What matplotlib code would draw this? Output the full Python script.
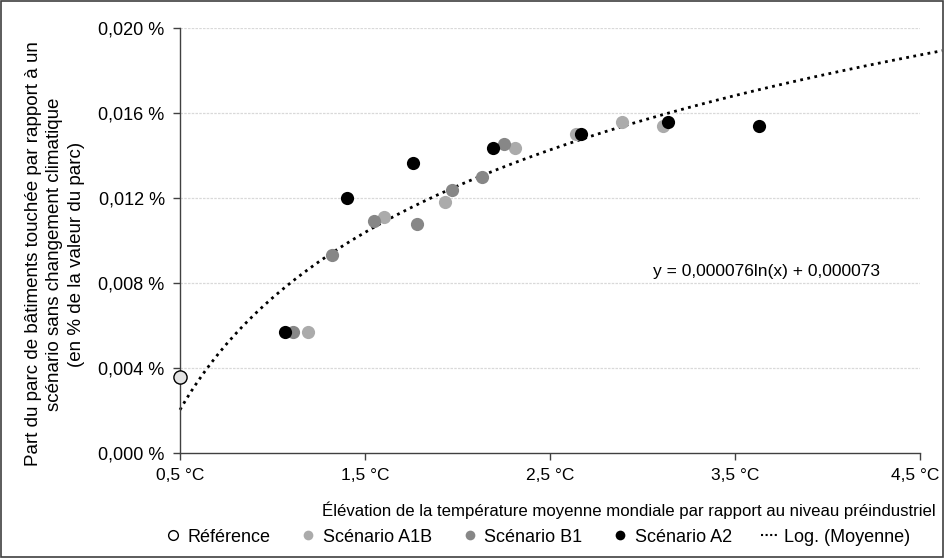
import numpy as np
import matplotlib
matplotlib.use("Agg")
import matplotlib.pyplot as plt
import matplotlib.ticker as mticker
import matplotlib.transforms as mtransforms
from matplotlib.lines import Line2D
from matplotlib.patches import Rectangle

plt.rcParams['font.family'] = ['Liberation Sans', 'DejaVu Sans']

# Point de référence (0,5 °C)
ref_x = [0.5]
ref_y = [0.0036]

# Scénarios : élévation de température (°C) et part touchée (%)
a1b_x = [1.19, 1.60, 1.93, 2.31, 2.64, 2.89, 3.11]
a1b_y = [0.0057, 0.0111, 0.0118, 0.01435, 0.0150, 0.0156, 0.0154]

b1_x = [1.11, 1.32, 1.55, 1.78, 1.97, 2.13, 2.25]
b1_y = [0.0057, 0.0093, 0.0109, 0.0108, 0.0124, 0.0130, 0.01454]

a2_x = [1.07, 1.40, 1.76, 2.19, 2.67, 3.14, 3.63]
a2_y = [0.0057, 0.0120, 0.01365, 0.01435, 0.0150, 0.0156, 0.0154]

# Tendance logarithmique (valeurs en fraction)
coef_a = 0.000076
coef_b = 0.000073

y_ticks = [0.000, 0.004, 0.008, 0.012, 0.016, 0.020]
x_ticks = [0.5, 1.5, 2.5, 3.5, 4.5]

W, H = 944, 558
fig = plt.figure(figsize=(W / 100, H / 100), dpi=100)
ax = fig.add_axes([180 / W, 1 - 453 / H, 740 / W, 425 / H])

ax.set_xlim(0.5, 4.5)
ax.set_ylim(0, 0.020)

for y in y_ticks[1:]:
    ax.axhline(y, color='#d9d9d9', lw=0.9, ls=(0, (2, 1)), zorder=0)

ms = 9.5
ax.plot(a1b_x, a1b_y, 'o', ms=ms, color='#ababab', mec='none', zorder=3)
ax.plot(b1_x, b1_y, 'o', ms=ms, color='#878787', mec='none', zorder=3)
ax.plot(a2_x, a2_y, 'o', ms=ms, color='black', mec='none', zorder=4)
ax.plot(ref_x, ref_y, 'o', ms=ms, color='#e3e3e3', mec='black', mew=1.0,
        zorder=5, clip_on=False)

xt = np.linspace(0.5, 4.62, 200)
yt = (coef_a * np.log(xt) + coef_b) * 100
ax.plot(xt, yt, color='black', lw=2, ls=(0, (1, 1.6)), zorder=2, clip_on=False)

ax.text(3.67, 0.00852, "y = 0,000076ln(x) + 0,000073", ha='center', va='center',
        fontsize=12.5)

ax.set_yticks(y_ticks)
ax.set_xticks(x_ticks)
ax.yaxis.set_major_formatter(mticker.FuncFormatter(
    lambda v, p: f"{v:.3f} %".replace('.', ',')))
ax.xaxis.set_major_formatter(mticker.FuncFormatter(
    lambda v, p: f"{v:.1f} °C".replace('.', ',')))

for s in ['top', 'right']:
    ax.spines[s].set_visible(False)
for s in ['left', 'bottom']:
    ax.spines[s].set_color('#404040')
    ax.spines[s].set_linewidth(1.0)
ax.tick_params(direction='out', length=5, width=1, color='#404040',
               labelsize=13, pad=6)
ax.tick_params(axis='x', labelsize=12.5)
# le dernier libellé est un peu décalé pour rester dans le cadre
dernier = ax.get_xticklabels()[-1]
dernier.set_transform(dernier.get_transform() +
                      mtransforms.ScaledTranslation(-5 / 100, 0, fig.dpi_scale_trans))

fig.text(629 / W, 1 - 510 / H,
         "Élévation de la température moyenne mondiale par rapport au niveau préindustriel",
         ha='center', va='center', fontsize=12.1)
fig.text(55 / W, 1 - 254 / H,
         "Part du parc de bâtiments touchée par rapport à un\n"
         "scénario sans changement climatique\n"
         "(en % de la valeur du parc)",
         ha='center', va='center', rotation=90, fontsize=13.5, linespacing=1.36)

handles = [
    Line2D([], [], ls='none', marker='o', ms=7, mfc='white', mec='black', mew=1),
    Line2D([], [], ls='none', marker='o', ms=7, color='#ababab', mec='none'),
    Line2D([], [], ls='none', marker='o', ms=7, color='#878787', mec='none'),
    Line2D([], [], ls='none', marker='o', ms=7, color='black', mec='none'),
    Line2D([], [], color='black', lw=1.5, ls=(0, (1, 1.2))),
]
labels = ["Référence", "Scénario A1B", "Scénario B1", "Scénario A2", "Log. (Moyenne)"]
fig.legend(handles, labels, loc='center', bbox_to_anchor=(537 / W, 1 - 537 / H),
           ncol=5, frameon=False, fontsize=13, handlelength=1.0,
           handletextpad=0.3, columnspacing=1.6)

fig.add_artist(Rectangle((1 / W, 1 / H), 1 - 2 / W, 1 - 2 / H,
                         transform=fig.transFigure, fill=False,
                         edgecolor='#404040', lw=1.2))

fig.savefig("out.png", dpi=100)
